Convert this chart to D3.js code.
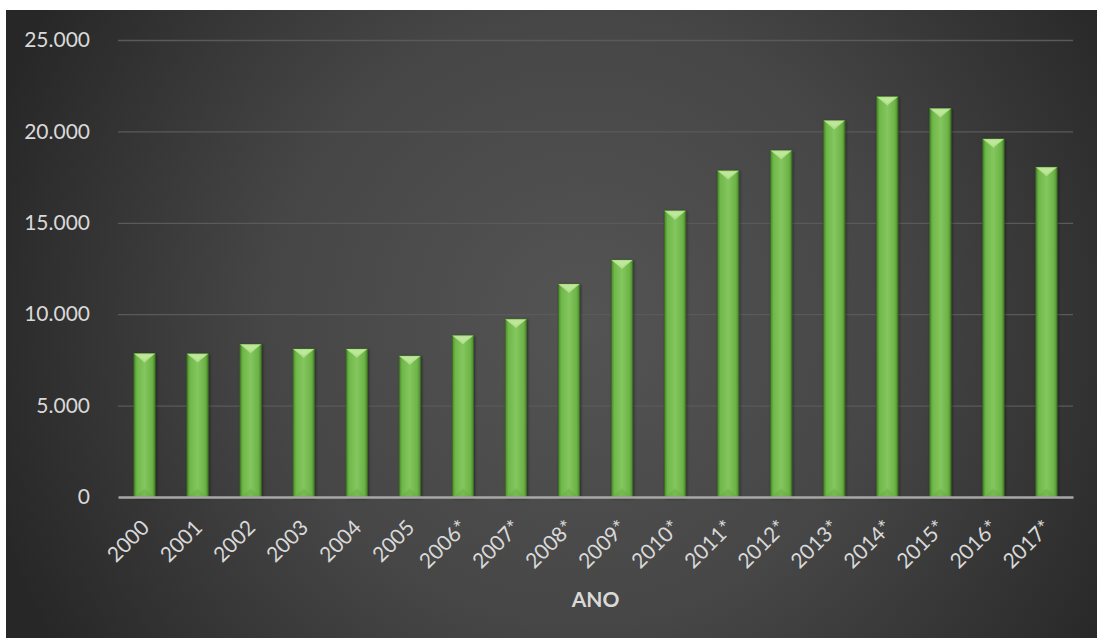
<!DOCTYPE html>
<html>
<head>
<meta charset="utf-8">
<script src="https://cdn.jsdelivr.net/npm/d3@7"></script>
<style>
  html, body { margin: 0; padding: 0; background: #ffffff; }
  #svg-container { width: 1097px; height: 638px; }
  text { font-family: Lato, "Open Sans", sans-serif; }
</style>
</head>
<body>
<div id="svg-container"></div>
<script>
// data
var years = ["2000", "2001", "2002", "2003", "2004", "2005", "2006*", "2007*", "2008*",
             "2009*", "2010*", "2011*", "2012*", "2013*", "2014*", "2015*", "2016*", "2017*"];
var values = [7850, 7840, 8350, 8100, 8100, 7720, 8840, 9730, 11650,
              12960, 15660, 17850, 18950, 20590, 21900, 21250, 19590, 18040];
var yTicks = [0, 5000, 10000, 15000, 20000, 25000];
var axisTitle = "ANO";

var width = 1097;
var height = 638;
var margin = { top: 40, right: 24, bottom: 141, left: 118 };

var data = years.map(function(y, i) { return { year: y, value: values[i] }; });

var svg = d3.select("#svg-container")
            .append("svg")
            .attr("width", width)
            .attr("height", height);

var defs = svg.append("defs");

// dark background, lighter toward the middle
var bgGrad = defs.append("radialGradient")
                 .attr("id", "bg")
                 .attr("gradientUnits", "userSpaceOnUse")
                 .attr("cx", 580).attr("cy", 320).attr("r", 620);
bgGrad.append("stop").attr("offset", "0").attr("stop-color", "#545454");
bgGrad.append("stop").attr("offset", "0.5").attr("stop-color", "#464646");
bgGrad.append("stop").attr("offset", "1").attr("stop-color", "#272727");

var barGrad = defs.append("linearGradient")
                  .attr("id", "bar")
                  .attr("x1", "0").attr("x2", "1").attr("y1", "0").attr("y2", "0");
barGrad.append("stop").attr("offset", "0").attr("stop-color", "#4a872c");
barGrad.append("stop").attr("offset", "0.14").attr("stop-color", "#6fb849");
barGrad.append("stop").attr("offset", "0.5").attr("stop-color", "#84c65f");
barGrad.append("stop").attr("offset", "0.86").attr("stop-color", "#6cb346");
barGrad.append("stop").attr("offset", "1").attr("stop-color", "#4a872c");

var shadow = defs.append("filter").attr("id", "shadow")
                 .attr("x", "-50%").attr("y", "-10%").attr("width", "200%").attr("height", "120%");
shadow.append("feDropShadow")
      .attr("dx", 1).attr("dy", 1).attr("stdDeviation", 1.5)
      .attr("flood-color", "#000").attr("flood-opacity", 0.45);

svg.append("rect")
   .attr("x", 6).attr("y", 10)
   .attr("width", width - 6).attr("height", height - 10)
   .attr("fill", "url(#bg)");

var g = svg.append("g")
           .attr("transform", "translate(" + margin.left + "," + margin.top + ")");

var innerW = width - margin.left - margin.right;
var innerH = height - margin.top - margin.bottom;

var scaleX = d3.scaleBand()
               .domain(years)
               .range([0, innerW])
               .paddingInner(0.6)
               .paddingOuter(0.3);

var scaleY = d3.scaleLinear()
               .domain([0, 25000])
               .range([innerH, 0]);

var fmt = function(v) { return d3.format(",")(v).replace(/,/g, "."); };

// gridlines + y labels
var yAxis = g.append("g")
             .call(d3.axisLeft(scaleY).tickValues(yTicks).tickSize(-innerW).tickFormat(fmt).tickPadding(28));
yAxis.select(".domain").remove();
yAxis.selectAll(".tick line")
     .attr("stroke", "#5a5a5a")
     .attr("stroke-width", 1.3)
     .attr("opacity", function(d) { return d === 0 ? 0 : 1; });
yAxis.selectAll(".tick text")
     .attr("fill", "#d9d9d9")
     .attr("font-size", 21)
     .attr("font-family", "Lato, 'Open Sans', sans-serif");

// bars
var bars = g.selectAll(".bar")
            .data(data)
            .enter()
            .append("g")
            .attr("class", "bar")
            .attr("filter", "url(#shadow)");

bars.append("rect")
    .attr("x", function(d) { return scaleX(d.year); })
    .attr("y", function(d) { return scaleY(d.value); })
    .attr("width", scaleX.bandwidth())
    .attr("height", function(d) { return innerH - scaleY(d.value); })
    .attr("fill", "url(#bar)")
    .attr("stroke", "#3d7022")
    .attr("stroke-width", 0.8);

// top bevel
bars.append("path")
    .attr("d", function(d) {
      var x0 = scaleX(d.year), w = scaleX.bandwidth(), y0 = scaleY(d.value);
      return "M" + x0 + "," + y0 + "L" + (x0 + w) + "," + y0 + "L" + (x0 + w / 2) + "," + (y0 + w * 0.42) + "Z";
    })
    .attr("fill", "#b0e08a");

bars.append("path")
    .attr("d", function(d) {
      var x0 = scaleX(d.year), w = scaleX.bandwidth(), y0 = scaleY(d.value);
      return "M" + (x0 + 2) + "," + (y0 + 1) + "L" + (x0 + w - 2) + "," + (y0 + 1) + "L" + (x0 + w / 2) + "," + (y0 + w * 0.3) + "Z";
    })
    .attr("fill", "#c4eaa3")
    .attr("opacity", 0.7);

// bottom bevel
bars.append("path")
    .attr("d", function(d) {
      var x0 = scaleX(d.year), w = scaleX.bandwidth(), y0 = innerH;
      return "M" + (x0 + 1) + "," + y0 + "L" + (x0 + w - 1) + "," + y0 + "L" + (x0 + w / 2) + "," + (y0 - w * 0.4) + "Z";
    })
    .attr("fill", "#5c9f3a")
    .attr("opacity", 0.3);

// x axis
var xAxis = g.append("g")
             .attr("transform", "translate(0," + innerH + ")")
             .call(d3.axisBottom(scaleX).tickSize(0).tickPadding(0));
xAxis.select(".domain")
     .attr("stroke", "#a8a8a8")
     .attr("stroke-width", 2.5);
xAxis.selectAll(".tick text")
     .attr("fill", "#d9d9d9")
     .attr("font-size", 21)
     .attr("font-family", "Lato, 'Open Sans', sans-serif")
     .attr("text-anchor", "end")
     .attr("dy", null)
     .attr("y", 0)
     .attr("x", 0)
     .attr("transform", "translate(6,32) rotate(-45)");

g.append("text")
 .attr("x", innerW / 2)
 .attr("y", innerH + 110)
 .attr("text-anchor", "middle")
 .attr("fill", "#d9d9d9")
 .attr("font-size", 21)
 .attr("font-weight", "bold")
 .text(axisTitle);
</script>
</body>
</html>
